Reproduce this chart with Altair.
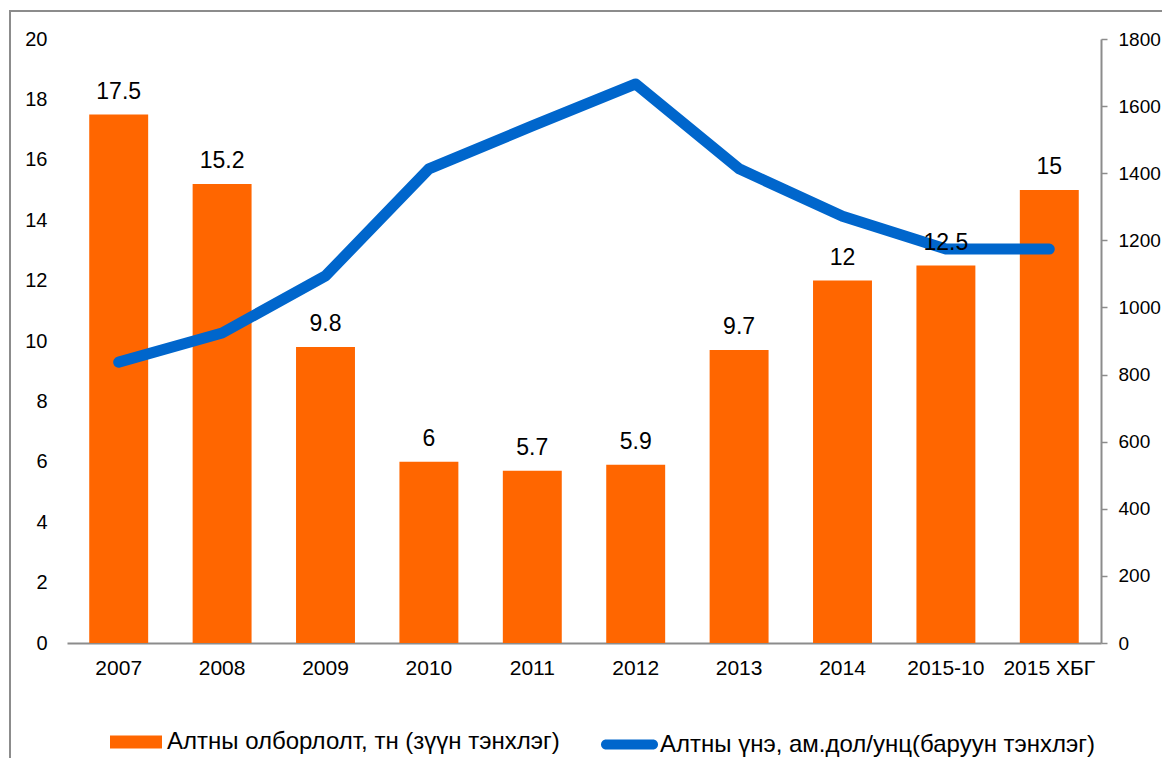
import altair as alt
import pandas as pd

years = ["2007", "2008", "2009", "2010", "2011", "2012", "2013", "2014", "2015-10", "2015 ХБГ"]
production = [17.5, 15.2, 9.8, 6, 5.7, 5.9, 9.7, 12, 12.5, 15]
price = [837, 924, 1094, 1413, 1541, 1666, 1413, 1272, 1174, 1174]

name_bar = "Алтны олборлолт, тн (зүүн тэнхлэг)"
name_line = "Алтны үнэ, ам.дол/унц(баруун тэнхлэг)"

df = pd.DataFrame({
    "year": years,
    "production": production,
    "price": price,
    "s_bar": name_bar,
    "s_line": name_line,
})

FONT = "Liberation Sans"
ORANGE = "#FF6600"
BLUE = "#0066CC"
GRAY = "#8C8C8C"

xenc = alt.X(
    "year:N", sort=years, title=None,
    scale=alt.Scale(paddingInner=0.43, paddingOuter=0.215),
    axis=alt.Axis(labelAngle=0, ticks=False, domainColor=GRAY, domainWidth=2,
                  labelPadding=14, labelFontSize=21, labelFont=FONT, labelColor="#000"),
)

bars = alt.Chart(df).mark_bar(color=ORANGE).encode(
    x=xenc,
    y=alt.Y("production:Q", title=None,
            scale=alt.Scale(domain=[0, 20]),
            axis=alt.Axis(values=list(range(0, 21, 2)), domain=False, ticks=False, grid=False,
                          labelPadding=20, labelFontSize=20, labelFont=FONT, labelColor="#000")),
    color=alt.Color("s_bar:N", scale=alt.Scale(domain=[name_bar], range=[ORANGE]),
                    legend=alt.Legend(title=None, orient="none", legendX=43, legendY=677,
                                      symbolType="M-1,-0.25H1V0.25H-1Z", symbolSize=2704,
                                      symbolStrokeWidth=0, labelOffset=5, padding=0, labelLimit=0,
                                      labelFontSize=24, labelFont=FONT, labelColor="#000")),
)

labels = alt.Chart(df).mark_text(baseline="alphabetic", dy=-16, fontSize=23, font=FONT, color="#000").encode(
    x=alt.X("year:N", sort=years),
    y=alt.Y("production:Q", scale=alt.Scale(domain=[0, 20]), axis=None),
    text=alt.Text("production:Q"),
)

line = alt.Chart(df).mark_line(strokeWidth=11, strokeCap="round", strokeJoin="round").encode(
    x=alt.X("year:N", sort=years),
    y=alt.Y("price:Q", title=None,
            scale=alt.Scale(domain=[0, 1800]),
            axis=alt.Axis(orient="right", values=list(range(0, 1801, 200)), format="d", grid=False,
                          domainColor=GRAY, domainWidth=2, tickColor=GRAY, tickSize=6, tickWidth=1.5,
                          labelPadding=11, labelFontSize=19, labelFont=FONT, labelColor="#000")),
    color=alt.Color("s_line:N", scale=alt.Scale(domain=[name_line], range=[BLUE]),
                    legend=alt.Legend(title=None, orient="none", legendX=534, legendY=677,
                                      symbolType="M-0.825,-0.175H0.825A0.175,0.175,0,0,1,0.825,0.175H-0.825A0.175,0.175,0,0,1,-0.825,-0.175Z",
                                      symbolSize=3249, symbolFillColor=BLUE, symbolStrokeColor=BLUE,
                                      symbolStrokeWidth=0, labelOffset=2, padding=0, labelLimit=0,
                                      labelFontSize=24, labelFont=FONT, labelColor="#000")),
)

frame = alt.Chart(alt.Data(values=[{"f": 1}])).mark_rect(
    fill=None, stroke=GRAY, strokeWidth=2, clip=False
).encode(
    x=alt.value(-57), x2=alt.value(1140), y=alt.value(-28), y2=alt.value(760)
)

chart = alt.layer(frame, bars, line, labels).resolve_scale(
    y="independent", color="independent"
).properties(
    width=1034, height=604,
    autosize=alt.AutoSizeParams(type="none"),
    padding={"left": 59, "top": 31, "right": 61, "bottom": 115},
).configure_view(stroke=None)

chart.save("out.html", embed_options={"renderer": "svg", "actions": False})
